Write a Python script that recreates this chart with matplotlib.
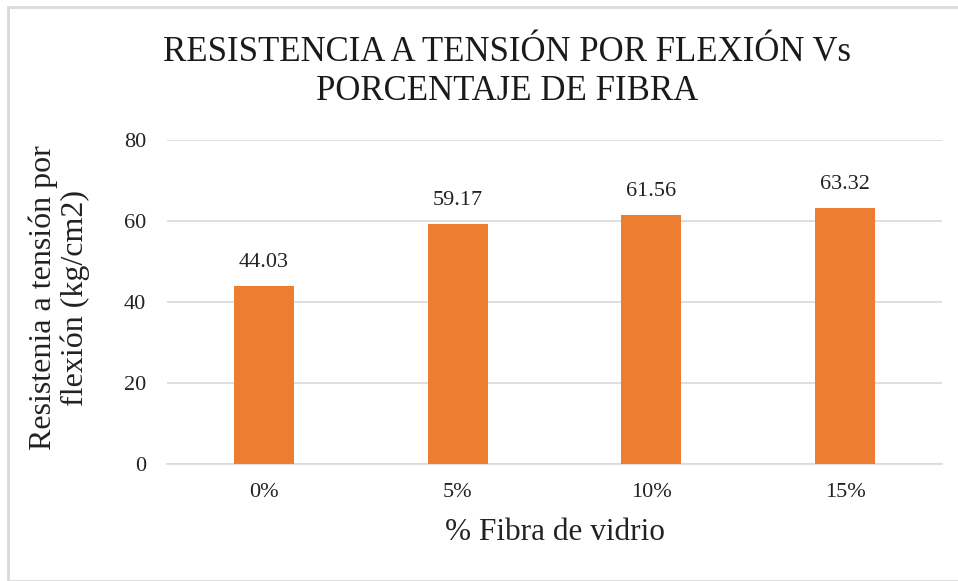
import numpy as np
import matplotlib
matplotlib.use('Agg')
import matplotlib.pyplot as plt
from matplotlib.patches import Rectangle

categories = ['0%', '5%', '10%', '15%']
values = [44.03, 59.17, 61.56, 63.32]
yticks = [0, 20, 40, 60, 80]

plt.rcParams['font.family'] = ['Liberation Serif', 'DejaVu Serif']

fig = plt.figure(figsize=(9.58, 5.81), dpi=100)
W, H = 958, 581

# light frame around the chart area
fig.patches.append(Rectangle((8 / W, 0), 1, 1 - 7 / H, transform=fig.transFigure,
                             fill=False, edgecolor='#D9D9D9', linewidth=2))

ax = fig.add_axes([167 / W, (H - 464) / H, (942 - 167) / W, (464 - 140) / H])
x = np.arange(len(categories))
bars = ax.bar(x, values, width=0.31, color='#ED7D31', zorder=3)

ax.set_xlim(-0.5, len(categories) - 0.5)
ax.set_ylim(0, 80)
ax.set_yticks(yticks)
ax.set_xticks(x)
ax.set_xticklabels(categories)
ax.grid(axis='y', color='#D9D9D9', linewidth=1.2, zorder=0)
for s in ['top', 'right', 'left']:
    ax.spines[s].set_visible(False)
ax.spines['bottom'].set_color('#D9D9D9')
ax.spines['bottom'].set_linewidth(1.2)
ax.tick_params(axis='both', length=0, labelsize=16, colors='#222222')
ax.tick_params(axis='y', pad=15)
ax.tick_params(axis='x', pad=14)

for b, v in zip(bars, values):
    ax.annotate('%.2f' % v, (b.get_x() + b.get_width() / 2, v), xytext=(0, 10),
                textcoords='offset points', ha='center', va='bottom', fontsize=16, color='#222222')

fig.text(507 / W, 1 - 72 / H, 'RESISTENCIA A TENSIÓN POR FLEXIÓN Vs\nPORCENTAJE DE FIBRA',
         ha='center', va='center', fontsize=25, color='#1a1a1a', linespacing=1.24)
fig.text(555 / W, 1 - 533 / H, '% Fibra de vidrio', ha='center', va='center', fontsize=22.5, color='#222222')
fig.text(59 / W, 1 - 298 / H, 'Resistenia a tensión por\nflexión (kg/cm2)', ha='center', va='center',
         rotation=90, fontsize=23, color='#222222', linespacing=1.1)

plt.savefig('out.png', dpi=100, facecolor='white')
plt.close()
